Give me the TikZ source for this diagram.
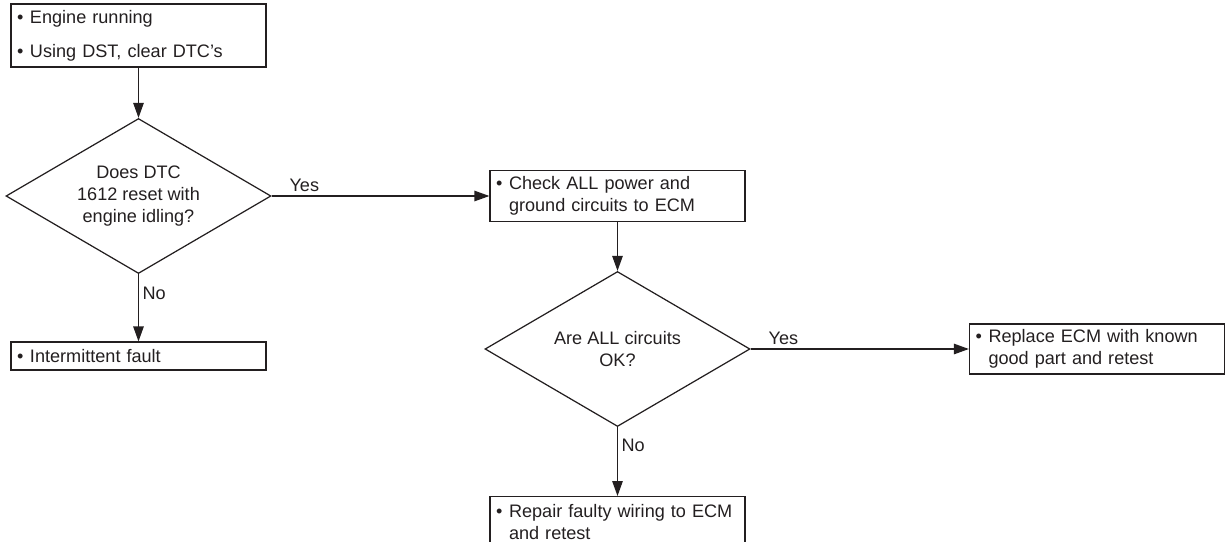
\documentclass[tikz,border=0pt]{standalone}
\usepackage{fontspec}
\setmainfont{Liberation Sans}
\usetikzlibrary{arrows.meta,positioning,shapes.geometric}
\definecolor{ink}{RGB}{35,31,32}
\newcommand{\bul}{\makebox[7.4pt][l]{\textbullet}}
\newcommand{\hang}{\hspace*{7.4pt}}

\begin{document}
\begin{tikzpicture}[font=\fontsize{10.3}{12.5}\selectfont,color=ink,
  >={Triangle[length=0.3cm,width=0.21cm]},
  stepbox/.style={draw,line width=0.7pt,align=left,text width=4.86cm,inner xsep=0.12cm,inner ysep=0pt},
  ask/.style={draw,line width=0.7pt,diamond,aspect=1.71,minimum width=5.3cm,minimum height=3.1cm,inner sep=0pt,align=center},
  lbl/.style={inner sep=2pt},
  flow/.style={->,line width=0.7pt}]

  \path[use as bounding box,clip] (0,0) rectangle (24.5,-10.82);

  % left column
  \node[stepbox,minimum height=1.26cm] (start) at (2.77,-0.71)
    {\bul Engine running\\[7pt]\bul Using DST, clear DTC's};
  \node[ask] (q1) at (2.77,-3.92) {Does DTC\\1612 reset with\\engine idling?};
  \node[stepbox,minimum height=0.56cm] (fault) at (2.77,-7.12) {\bul Intermittent fault};

  % middle column
  \node[stepbox,minimum height=1.02cm] (check) at (12.35,-3.92)
    {\bul Check ALL power and\\\hang ground circuits to ECM};
  \node[ask] (q2) at (12.35,-6.98) {Are ALL circuits\\OK?};
  \node[stepbox,minimum height=1.0cm,anchor=north] (repair) at (12.35,-9.92)
    {\bul Repair faulty wiring to ECM\\\hang and retest};

  % right column
  \node[stepbox,minimum height=1.0cm] (replace) at (21.94,-6.98)
    {\bul Replace ECM with known\\\hang good part and retest};

  \draw[flow] (start) -- (q1);
  \draw[flow] (q1) -- node[lbl,pos=0.15,above]{Yes} (check);
  \draw[flow] (q1) -- node[lbl,pos=0.28,right]{No} (fault);
  \draw[flow] (check) -- (q2);
  \draw[flow] (q2) -- node[lbl,pos=0.15,above]{Yes} (replace);
  \draw[flow] (q2) -- node[lbl,pos=0.26,right]{No} (repair);
\end{tikzpicture}
\end{document}
